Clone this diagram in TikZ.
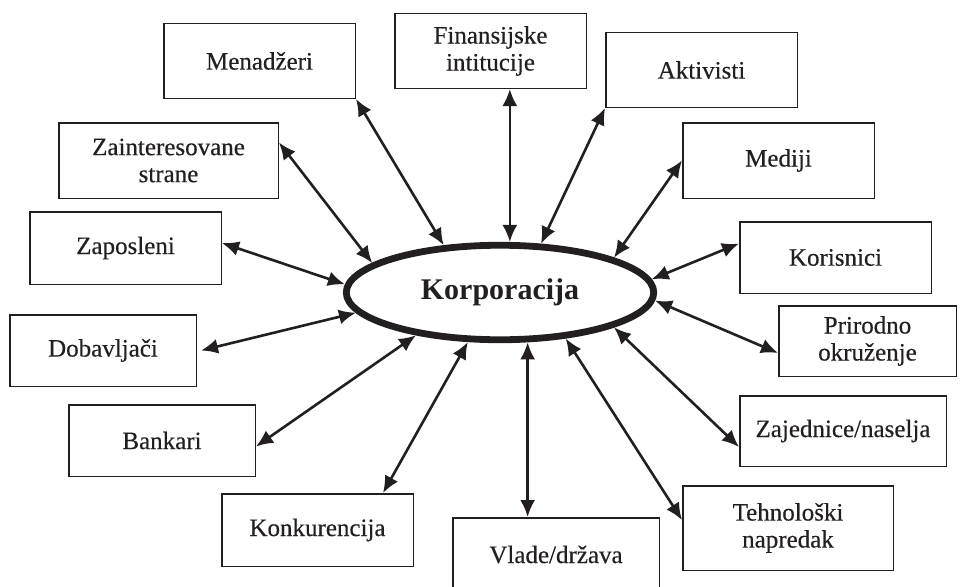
\documentclass[tikz,border=0pt]{standalone}
\usepackage{fontspec}
\setmainfont{Liberation Serif}
\newfontfamily\labelfont{Liberation Serif}[FakeBold=0.35]
\usetikzlibrary{shapes.geometric,arrows.meta}
\definecolor{ink}{RGB}{35,31,32}
\begin{document}
\begin{tikzpicture}[x=1pt,y=-1pt,
  party/.style={draw=ink, text=ink, line width=1.5pt, align=center, inner sep=0pt,
                font=\labelfont\fontsize{25}{27}\selectfont},
  hub/.style={draw=ink, text=ink, ellipse, line width=6.8pt, inner sep=0pt,
              font=\fontsize{30}{30}\selectfont\bfseries},
  link/.style={draw=ink, line width=2.6pt,
               {Latex[length=17pt,width=15pt]}-{Latex[length=17pt,width=15pt]}}
]
\useasboundingbox (0,0) rectangle (960,586);

% central node
\node[hub, minimum width=307.5pt, minimum height=94.5pt] (corp) at (500,292.5) {Korporacija};

% stakeholder boxes
\node[party, minimum width=191.5pt, minimum height=74.5pt] (men) at (259.5,61)    {Menadžeri};
\node[party, minimum width=191.5pt, minimum height=74.5pt] (fin) at (490.5,51)    {Finansijske\\intitucije};
\node[party, minimum width=191.5pt, minimum height=74.5pt] (akt) at (701.5,70)    {Aktivisti};
\node[party, minimum width=219.5pt, minimum height=75.5pt] (zai) at (168.5,160.5) {Zainteresovane\\strane};
\node[party, minimum width=191.5pt, minimum height=75.5pt] (med) at (778.5,160.5) {Mediji};
\node[party, minimum width=191.5pt, minimum height=72.5pt] (zap) at (125.5,248)   {Zaposleni};
\node[party, minimum width=191.5pt, minimum height=71.5pt] (kor) at (835.5,257.5) {Korisnici};
\node[party, minimum width=186.5pt, minimum height=71.5pt] (dob) at (103,350.5)   {Dobavljači};
\node[party, minimum width=177.5pt, minimum height=70.5pt] (pri) at (867.5,341)   {Prirodno\\okruženje};
\node[party, minimum width=186.5pt, minimum height=71.5pt] (ban) at (162,440.5)   {Bankari};
\node[party, minimum width=206.5pt, minimum height=70.5pt] (zaj) at (843,431)     {Zajednice/naselja};
\node[party, minimum width=191.5pt, minimum height=72.5pt] (kon) at (317.5,530)   {Konkurencija};
\node[party, minimum width=206.5pt, minimum height=73.5pt] (vla) at (556,554.5)   {Vlade/država};
\node[party, minimum width=210.5pt, minimum height=84.5pt] (teh) at (788,528)     {Tehnološki\\napredak};

% two-way relations
\draw[link] (men.south east) -- (corp.140);
\draw[link] (fin.south -| corp.79) -- (corp.79);
\draw[link] (akt.south west) -- (corp.50);
\draw[link] ([yshift=18pt]zai.east) -- (corp.167);
\draw[link] (med.west) -- (corp.17);
\draw[link] ([yshift=5pt]zap.east) -- (corp.177);
\draw[link] ([yshift=14pt]kor.west) -- (corp.5);
\draw[link] ([xshift=4pt]dob.east) -- (corp.188);
\draw[link] ([yshift=-12pt]pri.west) -- (corp.357);
\draw[link] ([yshift=-6pt]ban.east) -- (corp.207);
\draw[link] ([yshift=-16pt]zaj.west) -- (corp.343);
\draw[link] ([xshift=-31pt]kon.north east) -- (corp.237);
\draw[link] (vla.north -| corp.299) -- (corp.299);
\draw[link] ([yshift=8pt]teh.west) -- (corp.325);
\end{tikzpicture}
\end{document}
